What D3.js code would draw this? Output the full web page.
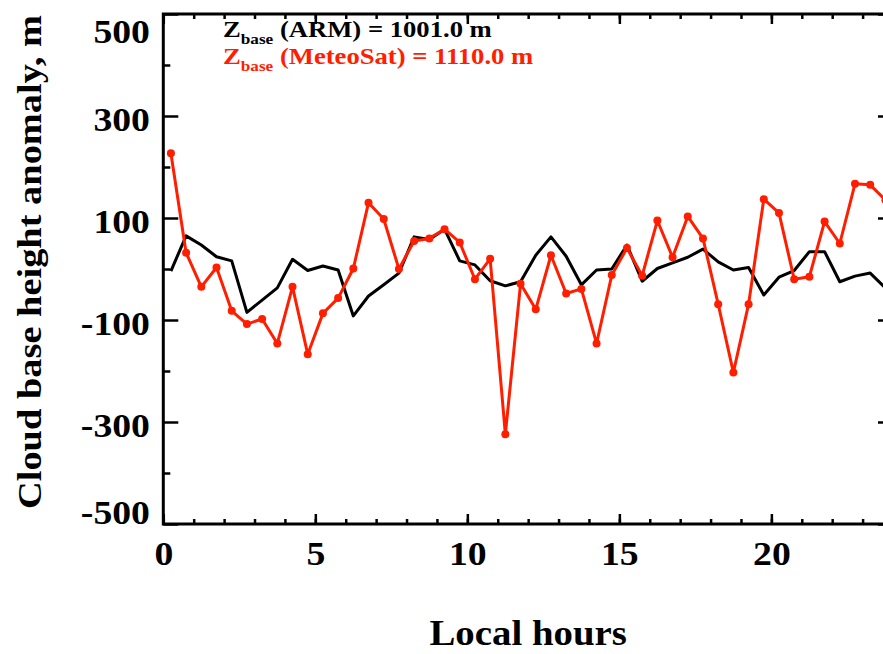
<!DOCTYPE html>
<html><head><meta charset="utf-8">
<script src="https://cdn.jsdelivr.net/npm/d3@7/dist/d3.min.js"></script>
<style>
body{margin:0;background:#fff}
svg{display:block}
text{font-family:"Liberation Serif","Times New Roman",serif;font-weight:bold}
</style>
</head><body>
<svg id="chart" width="883" height="654"></svg>
<script>
const hours = [0.25,0.75,1.25,1.75,2.25,2.75,3.25,3.75,4.25,4.75,5.25,5.75,
  6.25,6.75,7.25,7.75,8.25,8.75,9.25,9.75,10.25,10.75,11.25,11.75,
  12.25,12.75,13.25,13.75,14.25,14.75,15.25,15.75,16.25,16.75,17.25,17.75,
  18.25,18.75,19.25,19.75,20.25,20.75,21.25,21.75,22.25,22.75,23.25,23.75];
const armAnomaly = [-4,65,47,24,16,-85,-61,-37,19,-3,6,-2,
  -92,-53,-31,-8,63,58,78,16,8,-23,-33,-25,
  27,63,25,-31,-2,0,47,-24,1,12,23,39,
  14,-2,3,-51,-16,-3,34,34,-25,-14,-8,-37];
const meteosatAnomaly = [227,32,-35,3,-82,-108,-98,-146,-35,-167,-87,-57,
  1,130,98,0,55,60,78,52,-20,20,-324,-29,
  -79,27,-48,-39,-146,-12,41,-13,95,23,103,60,
  -69,-203,-69,137,110,-20,-15,93,50,167,165,135];
const xMajorTicks = [0,5,10,15,20];
const xMinorTicks = [0,1,2,3,4,5,6,7,8,9,10,11,12,13,14,15,16,17,18,19,20,21,22,23,24];
const yMajorTicks = [500,300,100,-100,-300,-500];
const yMinorTicks = [400,200,0,-200,-400];
const xTitle = "Local hours";
const yTitle = "Cloud base height anomaly, m";
const legendLabels = [
  {name:"(ARM)", value:"1001.0 m", color:"#000000"},
  {name:"(MeteoSat)", value:"1110.0 m", color:"#ff1e00"}
];

const svg = d3.select("#chart");
const L = 163.3, R = 893, T = 14, B = 524;
const x = d3.scaleLinear().domain([0,24]).range([L,R]);
const y = d3.scaleLinear().domain([-500,500]).range([B,T]);
const red = "#ff1e00";
const SX = 1.11; // horizontal stretch of the reference lettering

function styleAxis(g){
  g.select(".domain").remove();
  g.selectAll(".tick line").attr("stroke","#000").attr("stroke-width",2.5);
}
const fmt = d => String(d);

// bottom axis
svg.append("g").attr("transform",`translate(0,${B})`)
  .call(d3.axisBottom(x).tickValues(xMinorTicks).tickSize(-5).tickFormat(""))
  .call(styleAxis);
const gb = svg.append("g").attr("transform",`translate(0,${B})`)
  .call(d3.axisBottom(x).tickValues(xMajorTicks).tickSize(-10).tickPadding(17).tickFormat(fmt))
  .call(styleAxis);
gb.selectAll("text").attr("font-size",34).attr("fill","#000").attr("transform",`scale(${SX},1)`);

// top axis
svg.append("g").attr("transform",`translate(0,${T})`)
  .call(d3.axisTop(x).tickValues(xMinorTicks).tickSize(-5).tickFormat(""))
  .call(styleAxis);
svg.append("g").attr("transform",`translate(0,${T})`)
  .call(d3.axisTop(x).tickValues(xMajorTicks).tickSize(-10).tickFormat(""))
  .call(styleAxis);

// left axis
svg.append("g").attr("transform",`translate(${L},0)`)
  .call(d3.axisLeft(y).tickValues(yMinorTicks).tickSize(-7).tickFormat(""))
  .call(styleAxis);
const gl = svg.append("g").attr("transform",`translate(${L},0)`)
  .call(d3.axisLeft(y).tickValues(yMajorTicks).tickSize(-15).tickPadding(12).tickFormat(fmt))
  .call(styleAxis);
gl.selectAll("text").attr("font-size",34).attr("fill","#000").attr("transform",`scale(${SX},1)`)
  .attr("dy", d => d===500 ? "0.85em" : (d===-500 ? "-0.02em" : "0.42em"));

// right axis
svg.append("g").attr("transform",`translate(${R},0)`)
  .call(d3.axisRight(y).tickValues(yMinorTicks).tickSize(-7).tickFormat(""))
  .call(styleAxis);
svg.append("g").attr("transform",`translate(${R},0)`)
  .call(d3.axisRight(y).tickValues(yMajorTicks).tickSize(-15).tickFormat(""))
  .call(styleAxis);

// frame
svg.append("rect").attr("x",L).attr("y",T).attr("width",R-L).attr("height",B-T)
  .attr("fill","none").attr("stroke","#000").attr("stroke-width",3);

// lines
const armData = hours.map((h,i)=>({h, v:armAnomaly[i]}));
const metData = hours.map((h,i)=>({h, v:meteosatAnomaly[i]}));
const line = d3.line().x(d=>x(d.h)).y(d=>y(d.v));
svg.append("path").datum(armData).attr("d",line)
  .attr("fill","none").attr("stroke","#000").attr("stroke-width",3).attr("stroke-linejoin","round");
svg.append("path").datum(metData).attr("d",line)
  .attr("fill","none").attr("stroke",red).attr("stroke-width",3).attr("stroke-linejoin","round");
svg.append("g").selectAll("circle").data(metData).join("circle")
  .attr("cx",d=>x(d.h)).attr("cy",d=>y(d.v)).attr("r",4).attr("fill",red);

// legend
legendLabels.forEach((lg,i)=>{
  const t = svg.append("text").attr("transform",`translate(223,${37+i*26.5}) scale(${SX},1)`)
    .attr("fill",lg.color).attr("font-size",24);
  t.append("tspan").text("Z");
  t.append("tspan").attr("font-size",15.5).attr("dy",7).text("base");
  t.append("tspan").attr("dy",-7).text(" " + lg.name + " = " + lg.value);
});

// axis titles
svg.append("text").attr("transform",`translate(${(L+R)/2},645) scale(${SX},1)`).attr("text-anchor","middle")
  .attr("font-size",35).attr("fill","#000").text(xTitle);
svg.append("text").attr("transform",`translate(41,262) rotate(-90) scale(1.13,1)`).attr("text-anchor","middle")
  .attr("font-size",34).attr("fill","#000").text(yTitle);
</script>
</body></html>
